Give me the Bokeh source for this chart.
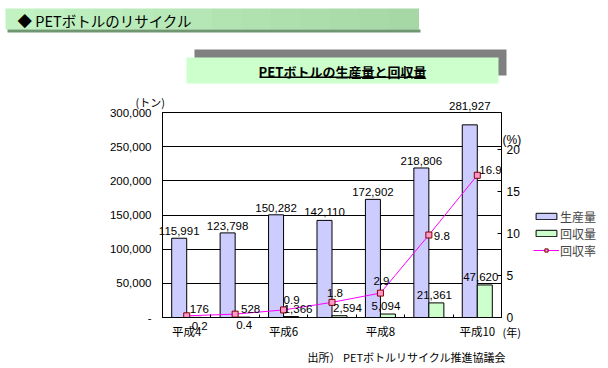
import math
from bokeh.plotting import figure
from bokeh.models import (Range1d, LinearAxis, FixedTicker, NumeralTickFormatter, ColumnDataSource,
                          LabelSet, Legend, LegendItem, GridBox)
from bokeh.core.properties import value
from bokeh.embed import file_html
from bokeh.resources import INLINE

# ---- data ----
categories = ["平成4", "平成5", "平成6", "平成7", "平成8", "平成9", "平成10"]
production = [115991, 123798, 150282, 142110, 172902, 218806, 281927]   # 生産量 (トン)
recovery = [176, 528, 1366, 2594, 5094, 21361, 47620]                   # 回収量 (トン)
rate = [0.2, 0.4, 0.9, 1.8, 2.9, 9.8, 16.9]                             # 回収率 (%)
ton_ticks = [0, 50000, 100000, 150000, 200000, 250000, 300000]
pct_ticks = [0, 5, 10, 15, 20]
series_names = ["生産量", "回収量", "回収率"]

# label nudges (pixels, positive = up)
prod_dy = [3, 3, 3, 4, 3, 3, 15]
rec_dx = [5, 8, 7, 8, -2, -2, -4]
rate_dx = [5, 1, 0, -5, -7, 5, 2]
rate_dy = [-14, -15, 6, 5, 8, -5, 1]

W, H = 608, 368
FL, FR, FT, FB = 162, 501, 112, 317
PCT_MAX = 24.36
JP = "Noto Sans CJK JP"
NUM = "Liberation Sans"

n = len(categories)
xs = [i + 0.5 for i in range(n)]
bw = 0.31

src = ColumnDataSource(dict(
    x=xs,
    px=[x - bw / 2 for x in xs],
    rx=[x + bw / 2 for x in xs],
    production=production, recovery=recovery, rate=rate,
    prod_text=[f"{v:,}" for v in production],
    rec_text=[f"{v:,}" for v in recovery],
    rate_text=[f"{v}" for v in rate],
    prod_dy=prod_dy, rec_dx=rec_dx, rate_dx=rate_dx, rate_dy=rate_dy,
))

# ================= chart figure =================
p = figure(width=W, height=H, output_backend="svg", toolbar_location=None,
           x_range=Range1d(0, n), y_range=Range1d(0, ton_ticks[-1]),
           min_border_left=FL, min_border_right=W - FR, min_border_top=FT,
           min_border_bottom=H - FB)
p.frame_align = False
p.extra_y_ranges = {"rate": Range1d(0, PCT_MAX)}
p.outline_line_color = "black"
p.outline_line_alpha = 1
p.background_fill_color = "white"
p.border_fill_color = "white"

yt = FixedTicker(ticks=ton_ticks)
p.yaxis.ticker = yt
p.ygrid.ticker = yt
p.ygrid.grid_line_color = "black"
p.ygrid.grid_line_alpha = 1
p.xgrid.visible = False
p.yaxis.formatter = NumeralTickFormatter(format="0,0")
p.yaxis.major_label_overrides = {0: "-"}
p.yaxis.major_tick_in = 3
p.yaxis.major_tick_out = 0
p.yaxis.minor_tick_line_color = None
p.yaxis.axis_line_color = "black"
p.yaxis.major_label_standoff = 11
p.yaxis.major_label_text_font = NUM
p.yaxis.major_label_text_font_size = "11.5px"
p.yaxis.major_label_text_color = "black"

label_idx = list(range(0, n, 2))
p.xaxis.ticker = FixedTicker(ticks=[xs[i] for i in label_idx], minor_ticks=list(range(1, n)))
p.xaxis.major_label_overrides = {xs[i]: categories[i] for i in label_idx}
p.xaxis.major_tick_in = 0
p.xaxis.major_tick_out = 0
p.xaxis.minor_tick_in = 3
p.xaxis.minor_tick_out = 0
p.xaxis.minor_tick_line_color = "black"
p.xaxis.axis_line_color = "black"
p.xaxis.major_label_standoff = 5
p.xaxis.major_label_text_font = JP
p.xaxis.major_label_text_font_size = "11.5px"
p.xaxis.major_label_text_color = "black"

ra = LinearAxis(y_range_name="rate", ticker=FixedTicker(ticks=pct_ticks))
ra.major_tick_in = 4
ra.major_tick_out = 0
ra.minor_tick_line_color = None
ra.axis_line_color = "black"
ra.major_label_standoff = 5
ra.major_label_text_font = NUM
ra.major_label_text_font_size = "12px"
ra.major_label_text_color = "black"
p.add_layout(ra, "right")

bar_prod = dict(fill_color="#ccccff", line_color="black", line_width=1)
bar_rec = dict(fill_color="#ccffcc", line_color="black", line_width=1)
line_sty = dict(line_color="#ff00ff", line_width=1)
mark_sty = dict(marker="square", size=6, fill_color="#ff99cc", line_color="#800000", line_width=1)

p.vbar(x="px", top="production", width=bw, source=src, **bar_prod)
p.vbar(x="rx", top="recovery", width=bw, source=src, **bar_rec)
p.line(x="x", y="rate", source=src, y_range_name="rate", **line_sty)
p.scatter(x="x", y="rate", source=src, y_range_name="rate", **mark_sty)

# ================= overlay (labels & decorations, not clipped) =================
sxu = (FR - FL) / n                # px per category
syu = (FB - FT) / ton_ticks[-1]    # px per ton
sru = (FB - FT) / PCT_MAX          # px per percent
ov = figure(width=W, height=H, output_backend="svg", toolbar_location=None,
            x_axis_type=None, y_axis_type=None,
            x_range=Range1d(-FL / sxu, n + (W - FR) / sxu),
            y_range=Range1d(-(H - FB) / syu, ton_ticks[-1] + FT / syu),
            min_border=0, min_border_left=0, min_border_right=0,
            min_border_top=0, min_border_bottom=0)
ov.frame_align = False
ov.extra_y_ranges = {"rate": Range1d(-(H - FB) / sru, PCT_MAX + FT / sru),
                     "px": Range1d(H, 0)}
ov.extra_x_ranges = {"px": Range1d(0, W)}
ov.outline_line_color = None
ov.background_fill_alpha = 0
ov.border_fill_alpha = 0
ov.grid.visible = False

common = dict(source=src, text_font=value(NUM), text_font_size=value("11.5px"),
              text_color="black", text_baseline="alphabetic")
ov.add_layout(LabelSet(x="px", y="production", text="prod_text", y_offset="prod_dy",
                       text_align="center", **common))
ov.add_layout(LabelSet(x="rx", y="recovery", text="rec_text", x_offset="rec_dx", y_offset=4,
                       text_align="center", **common))
ov.add_layout(LabelSet(x="x", y="rate", text="rate_text", x_offset="rate_dx", y_offset="rate_dy",
                       y_range_name="rate", text_align="left", **common))

PX = dict(x_range_name="px", y_range_name="px")


def box(x0, y0, x1, y1, color):
    ov.quad(left=[x0], right=[x1], top=[y0], bottom=[y1], fill_color=color,
            line_color=None, **PX)


def txt(x, y, text, font, size, align="left", bold=False):
    ov.text(x=[x], y=[y], text=[text], text_font=value(font), text_font_size=value(size),
            text_align=align, text_baseline="middle", text_color="black",
            text_font_style="bold" if bold else "normal", **PX)


# top banner with gradient
c0 = (0xc2, 0xf2, 0xc2)
c1 = (0xa6, 0xd8, 0xa6)
steps = 14
bx0, bx1 = 5, 418
for k in range(steps):
    t = k / (steps - 1)
    col = "#%02x%02x%02x" % tuple(int(a + (b - a) * t) for a, b in zip(c0, c1))
    box(bx0 + (bx1 - bx0) * k / steps, 8, bx0 + (bx1 - bx0) * (k + 1) / steps + 0.5, 29, col)
box(7, 29, 420, 32, "#6f976f")
txt(17, 19.5, "◆ PETボトルのリサイクル", JP, "14.5px")

# chart header
box(194, 49, 506, 75, "#808080")
box(186, 57, 498, 83, "#ccffcc")
txt(342, 71, "PETボトルの生産量と回収量", JP, "13px", align="center", bold=True)
box(259, 76, 425, 77.5, "black")

# unit labels & source
txt(135, 101, "(トン)", JP, "11px")
txt(502, 139, "(%)", NUM, "12px")
txt(502, 331, "(年)", JP, "11px")
txt(307, 356, "出所） PETボトルリサイクル推進協議会", JP, "11px")

# legend: key renderers carry no visible point (NaN), same styles as the chart's renderers
nan = [math.nan]
l1 = ov.vbar(x=nan, top=nan, width=1, **bar_prod)
l2 = ov.vbar(x=nan, top=nan, width=1, **bar_rec)
l3 = ov.line(x=nan, y=nan, **line_sty)
l4 = ov.scatter(x=nan, y=nan, **mark_sty)
legend = Legend(items=[LegendItem(label=series_names[0], renderers=[l1]),
                       LegendItem(label=series_names[1], renderers=[l2]),
                       LegendItem(label=series_names[2], renderers=[l3, l4])],
                location=(533, H - 258.5), padding=0, margin=0, spacing=-2, label_standoff=1,
                glyph_width=26, glyph_height=8, label_height=15,
                label_text_font=JP, label_text_font_size="12px",
                border_line_color=None, background_fill_alpha=0)
ov.add_layout(legend)

root = GridBox(children=[(p, 0, 0), (ov, 0, 0)])
open("out.html", "w").write(file_html(root, INLINE))
